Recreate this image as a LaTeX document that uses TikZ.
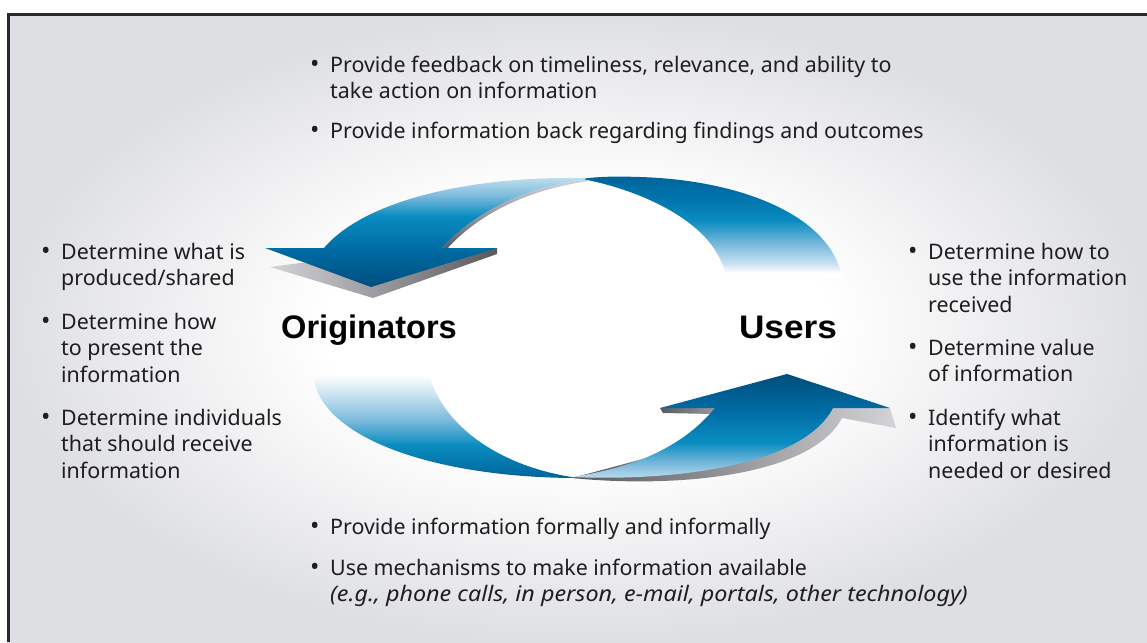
\documentclass[tikz,border=0pt]{standalone}
\usepackage{fontspec}
\setmainfont{Noto Sans}
\newfontfamily\headfam{Liberation Sans}
\usetikzlibrary{shadings}

\definecolor{bgedge}{HTML}{DEDFE2}
\definecolor{framegray}{HTML}{2A2A2C}
\definecolor{txtgray}{HTML}{1E1E20}
\definecolor{bluetop}{HTML}{00649A}
\definecolor{bluedeep}{HTML}{0076AE}
\definecolor{bluemid}{HTML}{0A8CC0}
\definecolor{bluepale}{HTML}{7BBADC}
\definecolor{bluefade}{HTML}{C6E1F0}
\definecolor{bluetip}{HTML}{004D7C}
\definecolor{bluewing}{HTML}{006CA4}
\definecolor{graylight}{HTML}{D4D4D8}
\definecolor{graymid}{HTML}{9A9A9E}
\definecolor{graydark}{HTML}{5A5A5E}

\newcommand\txtfont{\fontsize{21.4}{26.6}\selectfont\color{txtgray}}
\newcommand\ttlfont{\headfam\fontsize{32.6}{36}\selectfont\bfseries\color{black}}
\newcommand\bigdot{{\fontsize{25}{26}\selectfont\textbullet}}

\pgfdeclareradialshading{bgshade}{\pgfpoint{0bp}{0bp}}{color(0bp)=(white); color(11bp)=(white); color(25bp)=(bgedge); color(50bp)=(bgedge)}
\pgfdeclareverticalshading{toptail}{100bp}{color(0bp)=(white); color(27bp)=(white); color(32bp)=(bluefade); color(41bp)=(bluepale); color(53bp)=(bluemid); color(63bp)=(bluedeep); color(75bp)=(bluetop); color(100bp)=(bluetop)}
\pgfdeclareverticalshading{tophead}{100bp}{color(0bp)=(bluetip); color(25bp)=(bluetip); color(42bp)=(bluewing); color(57bp)=(bluemid); color(66bp)=(bluepale); color(75bp)=(bluefade); color(100bp)=(bluefade)}
\pgfdeclareverticalshading{bottail}{100bp}{color(0bp)=(bluetop); color(25bp)=(bluetop); color(41bp)=(bluemid); color(53bp)=(bluepale); color(65bp)=(bluefade); color(75bp)=(white); color(100bp)=(white)}
\pgfdeclareverticalshading{bothead}{100bp}{color(0bp)=(bluefade); color(25bp)=(bluefade); color(33bp)=(bluepale); color(43bp)=(bluemid); color(58bp)=(bluewing); color(75bp)=(bluetip); color(100bp)=(bluetip)}

\begin{document}
\begin{tikzpicture}[x=1pt, y=-1pt,
  bul/.style={anchor=base west, inner sep=0pt, font=\txtfont},
  txt/.style={anchor=base west, inner sep=0pt, align=left, font=\txtfont},
  ttl/.style={anchor=base, inner sep=0pt, font=\ttlfont}]
\useasboundingbox (0,0) rectangle (1147,642);

%background and frame
\shade[shading=bgshade] (8,14) rectangle (1147,642);
\draw[line width=3pt, framegray] (8.5,642) -- (8.5,14.5) -- (1147,14.5);

%top arrow, back part
\shade[shading=toptail] (842,277) .. controls (830,215) and (740,180) .. (640,177)
  .. controls (610,176) and (595,177) .. (581,179)
  .. controls (620,185) and (715,215) .. (726,277) -- cycle;
%top arrow, shadows
\shade[left color=graylight, right color=graydark] (270,267) -- (373,298) -- (497,254) -- (497,248) -- (300,263) -- cycle;
\shade[top color=graylight, bottom color=graydark] (446,250) .. controls (484,207) and (542,187) .. (590,181)
  -- (585,180) .. controls (540,185) and (480,205) .. (442,248) -- cycle;
%top arrow, head part
\shade[shading=tophead] (585,178) .. controls (470,176) and (365,200) .. (324,248)
  -- (265,248) -- (371,287) -- (497,248) -- (442,248)
  .. controls (480,205) and (540,185) .. (585,180) -- cycle;

%bottom arrow, back part
\shade[shading=bottail] (313,375) .. controls (320,440) and (440,478) .. (578,478)
  .. controls (505,468) and (445,430) .. (429,375) -- cycle;
%bottom arrow, shadows
\shade[left color=graydark, right color=graylight] (572,478) .. controls (670,488) and (810,478) .. (842,418)
  -- (896,428) -- (890,408) -- (833,408) -- cycle;
\shade[left color=graydark, right color=graymid] (663,413) -- (714,414) -- (716,408) -- (660,408) -- cycle;
%bottom arrow, head part
\shade[shading=bothead] (572,477) .. controls (660,481) and (800,470) .. (833,408)
  -- (890,408) -- (787,374) -- (660,408) -- (715,408)
  .. controls (680,450) and (630,468) .. (572,477) -- cycle;

%the two parties
\node[ttl] (orig) at (369,338) {Originators};
\node[ttl] (users) at (788,338) {\scalebox{1.08}[1]{Users}};

%feedback, top (text nodes sit on their last line)
\node[bul] (fb1dot) at (310,72) {\bigdot};
\node[txt] (fb1) at (330,98.6) {Provide feedback on timeliness, relevance, and ability to\\take action on information};
\node[bul] (fb2dot) at (310,138) {\bigdot};
\node[txt] (fb2) at (330,138) {Provide information back regarding findings and outcomes};

%originators, left
\node[bul] (or1dot) at (41,259) {\bigdot};
\node[txt] (or1) at (61,285.6) {Determine what is\\produced/shared};
\node[bul] (or2dot) at (41,329) {\bigdot};
\node[txt] (or2) at (61,382.2) {Determine how\\to present the\\information};
\node[bul] (or3dot) at (41,425) {\bigdot};
\node[txt] (or3) at (61,478.2) {Determine individuals\\that should receive\\information};

%users, right
\node[bul] (us1dot) at (908,259) {\bigdot};
\node[txt] (us1) at (928,312.2) {Determine how to\\use the information\\received};
\node[bul] (us2dot) at (908,355) {\bigdot};
\node[txt] (us2) at (928,381.6) {Determine value\\of information};
\node[bul] (us3dot) at (908,425) {\bigdot};
\node[txt] (us3) at (928,478.2) {Identify what\\information is\\needed or desired};

%sharing, bottom
\node[bul] (sh1dot) at (310,534) {\bigdot};
\node[txt] (sh1) at (330,534) {Provide information formally and informally};
\node[bul] (sh2dot) at (310,575) {\bigdot};
\node[txt] (sh2) at (330,601.6) {Use mechanisms to make information available\\\scalebox{1.09}[1]{\textit{(e.g., phone calls, in person, e-mail, portals, other technology)}}};
\end{tikzpicture}
\end{document}
